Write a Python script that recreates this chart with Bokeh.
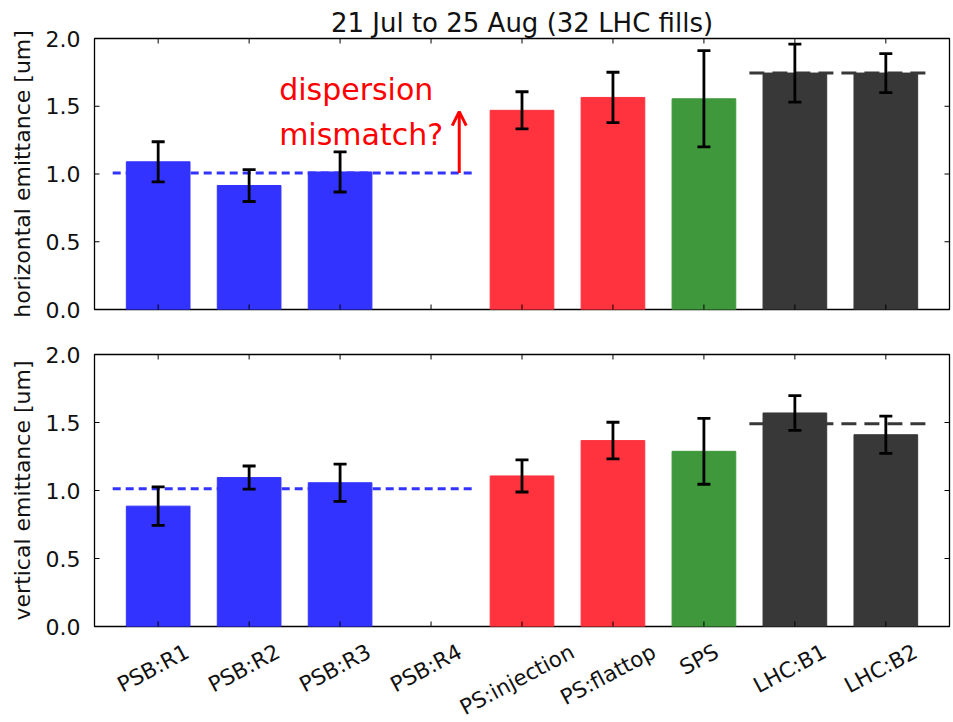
import math

from bokeh.core.properties import value
from bokeh.embed import file_html
from bokeh.layouts import column
from bokeh.models import (Arrow, ColumnDataSource, FixedTicker, LinearAxis, OpenHead,
                          PrintfTickFormatter, Range1d, TeeHead, Whisker)
from bokeh.plotting import figure
from bokeh.resources import INLINE

# ---- data -------------------------------------------------------------------
stations = ["PSB:R1", "PSB:R2", "PSB:R3", "PSB:R4", "PS:injection",
            "PS:flattop", "SPS", "LHC:B1", "LHC:B2"]
bar_colors = ["#3333ff", "#3333ff", "#3333ff", "#3333ff", "#ff333d",
              "#ff333d", "#3f983b", "#383838", "#383838"]

# mean emittance and spread per station [um]; PSB:R4 was not measured
h_emit = [1.09, 0.915, 1.015, None, 1.47, 1.565, 1.555, 1.745, 1.745]
h_err = [0.148, 0.118, 0.148, None, 0.137, 0.186, 0.355, 0.214, 0.144]
v_emit = [0.885, 1.095, 1.057, None, 1.107, 1.367, 1.288, 1.570, 1.410]
v_err = [0.142, 0.085, 0.137, None, 0.118, 0.135, 0.242, 0.128, 0.137]

psb_group = [0, 1, 2, 3]   # booster rings, averaged by the blue line
lhc_group = [7, 8]         # LHC beams, averaged by the black line

y_ticks = [0.0, 0.5, 1.0, 1.5, 2.0]
grid_ticks = [0.5, 1.0, 1.5]

FONT = "DejaVu Sans"
X_RANGE = (-0.7, len(stations) - 1 + 0.7)
FRAME_W = 855
LEFT = 94
RIGHT = 4


def group_mean(values, group):
    vals = [values[i] for i in group if values[i] is not None]
    return sum(vals) / len(vals)


def make_panel(values, errs, ylabel, border_top, border_bottom, frame_h):
    p = figure(frame_width=FRAME_W, frame_height=frame_h,
               min_border_left=LEFT, min_border_right=RIGHT,
               min_border_top=border_top, min_border_bottom=border_bottom,
               x_range=Range1d(*X_RANGE), y_range=Range1d(0, 2),
               toolbar_location=None, output_backend="svg",
               x_axis_type=None, y_axis_type=None)
    p.outline_line_color = "black"
    p.outline_line_width = 1.3

    idx = [i for i, v in enumerate(values) if v is not None]
    src = ColumnDataSource(dict(
        x=idx,
        top=[values[i] for i in idx],
        upper=[values[i] + errs[i] for i in idx],
        lower=[values[i] - errs[i] for i in idx],
        color=[bar_colors[i] for i in idx],
    ))
    p.vbar(x="x", top="top", width=0.7, bottom=0, source=src,
           fill_color="color", line_color="color", line_width=1)

    # dotted horizontal grid drawn over the bars
    p.ygrid.ticker = FixedTicker(ticks=grid_ticks)
    p.ygrid.grid_line_color = "#222222"
    p.ygrid.grid_line_dash = "1.5 4.5"
    p.ygrid.grid_line_width = 1.2
    p.ygrid.level = "guide"
    p.xgrid.visible = False

    # group averages
    for group, col, dash in ((psb_group, "#3333ff", "8 5"),
                             (lhc_group, "#383838", "15 8")):
        m = group_mean(values, group)
        p.line([group[0] - 0.5, group[-1] + 0.5], [m, m],
               line_color=col, line_width=3, line_dash=dash)

    whisk = Whisker(base="x", upper="upper", lower="lower", source=src,
                    line_color="black", line_width=2.8, level="annotation",
                    upper_head=TeeHead(size=13, line_width=2.8, line_color="black"),
                    lower_head=TeeHead(size=13, line_width=2.8, line_color="black"))
    p.add_layout(whisk)

    # inward tick marks on all four sides (half of each dash falls outside the frame)
    xticks = list(range(len(stations)))
    for xe in X_RANGE:
        p.scatter([xe] * len(y_ticks), y_ticks, marker="dash", size=10,
                  line_color="black", line_width=1)
    for ye in (0, 2):
        p.scatter(xticks, [ye] * len(xticks), marker="dash", size=10, angle=math.pi / 2,
                  line_color="black", line_width=1)

    left = LinearAxis(ticker=FixedTicker(ticks=y_ticks),
                      formatter=PrintfTickFormatter(format="%.1f"),
                      axis_label=ylabel)
    left.major_label_text_font = FONT
    left.major_label_text_font_size = "22px"
    left.major_label_text_color = "#111111"
    left.major_label_standoff = 14
    left.major_tick_in = 0
    left.major_tick_out = 0
    left.minor_tick_line_color = None
    left.axis_line_color = None
    left.axis_label_text_font = FONT
    left.axis_label_text_font_size = "22px"
    left.axis_label_text_font_style = "normal"
    left.axis_label_text_color = "#111111"
    left.axis_label_standoff = 8
    p.add_layout(left, "left")
    return p


top = make_panel(h_emit, h_err, "horizontal emittance [um]", 38, 22, 271)
bottom = make_panel(v_emit, v_err, "vertical emittance [um]", 23, 12, 272)

top.title.text = "21 Jul to 25 Aug (32 LHC fills)"
top.title.align = "center"
top.title.text_font = FONT
top.title.text_font_size = "26px"
top.title.text_font_style = "normal"
top.title.text_color = "#111111"
top.title.standoff = 2

# annotation: step between booster and PS injection
psb_h = group_mean(h_emit, psb_group)
top.add_layout(Arrow(x_start=3.31, y_start=psb_h, x_end=3.31, y_end=h_emit[4] - 0.01,
                     line_color="red", line_width=3,
                     end=OpenHead(size=14, line_color="red", line_width=3)))
top.text(x=[1.33, 1.33], y=[1.627, 1.29], text=["dispersion", "mismatch?"],
         text_align="left", text_baseline="middle", text_font=value(FONT),
         text_font_size="30px", text_color="red")

# rotated station names, each centred on its tick with the box tops aligned
glyph_w = {"P": 0.603, "S": 0.635, "B": 0.686, ":": 0.337, "R": 0.695, "1": 0.636,
           "2": 0.636, "3": 0.636, "4": 0.636, "i": 0.278, "n": 0.634, "j": 0.278,
           "e": 0.615, "c": 0.550, "t": 0.392, "o": 0.612, "f": 0.352, "l": 0.278,
           "a": 0.613, "p": 0.635, "L": 0.557, "H": 0.752, "C": 0.698}
LABEL_PX = 21.5
ANGLE = math.radians(28)
STRIP_H = 84
TOP_GAP = 2
names = figure(frame_width=FRAME_W, frame_height=STRIP_H,
               min_border_left=LEFT, min_border_right=RIGHT,
               min_border_top=0, min_border_bottom=0,
               x_range=Range1d(*X_RANGE), y_range=Range1d(0, STRIP_H),
               toolbar_location=None, output_backend="svg",
               x_axis_type=None, y_axis_type=None)
names.outline_line_color = None
names.xgrid.visible = False
names.ygrid.visible = False
label_y = []
for name in stations:
    w = LABEL_PX * sum(glyph_w.get(ch, 0.6) for ch in name)
    box_h = w * math.sin(ANGLE) + LABEL_PX * math.cos(ANGLE)
    label_y.append(STRIP_H - (TOP_GAP + box_h / 2))
names.text(x=list(range(len(stations))), y=label_y, text=stations, angle=ANGLE,
           x_offset=-5, text_align="center", text_baseline="middle",
           text_font=value(FONT), text_font_size=f"{LABEL_PX}px", text_color="#111111")

layout = column(top, bottom, names, spacing=0)
open("out.html", "w").write(file_html(layout, INLINE))
